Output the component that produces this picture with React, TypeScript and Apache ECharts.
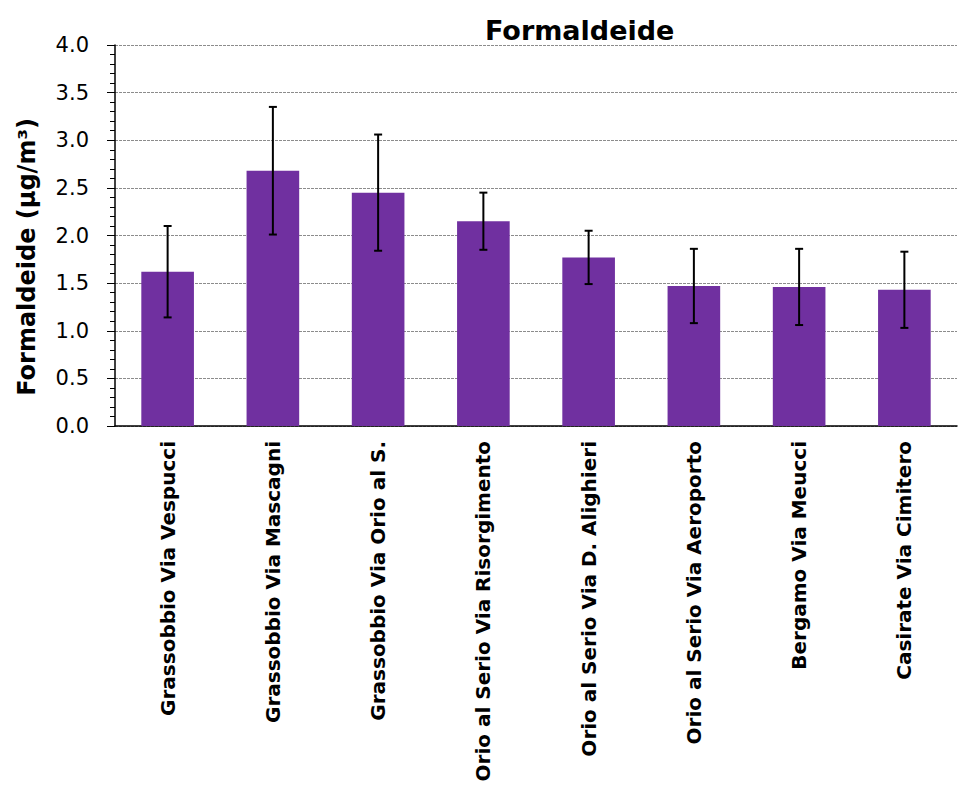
import React, { useEffect, useRef } from "react";
import * as echarts from "echarts";

const categories = [
  "Grassobbio Via Vespucci",
  "Grassobbio Via Mascagni",
  "Grassobbio Via Orio al S.",
  "Orio al Serio Via Risorgimento",
  "Orio al Serio Via D. Alighieri",
  "Orio al Serio Via Aeroporto",
  "Bergamo Via Meucci",
  "Casirate Via Cimitero",
];
const values = [1.62, 2.68, 2.45, 2.15, 1.77, 1.47, 1.46, 1.43];
const errLow = [1.14, 2.01, 1.84, 1.85, 1.49, 1.08, 1.06, 1.03];
const errHigh = [2.1, 3.35, 3.06, 2.45, 2.05, 1.86, 1.86, 1.83];

const FONT = "DejaVu Sans";

export default function App() {
  const ref = useRef<HTMLDivElement>(null);
  useEffect(() => {
    if (!ref.current) return;
    const chart = echarts.init(ref.current, null, { renderer: "svg" });
    const errData = categories.map((_, i) => [i, errLow[i], errHigh[i]]);
    chart.setOption({
      animation: false,
      backgroundColor: "#ffffff",
      graphic: [
        {
          type: "text",
          x: 485,
          y: 30,
          style: {
            text: "Formaldeide",
            font: `bold 27px "${FONT}"`,
            fill: "#000",
            textAlign: "left",
            textVerticalAlign: "middle",
          },
        },
        {
          type: "text",
          x: 27,
          y: 257,
          rotation: Math.PI / 2,
          style: {
            text: "Formaldeide (µg/m³)",
            font: `bold 24px "${FONT}"`,
            fill: "#000",
            textAlign: "center",
            textVerticalAlign: "middle",
          },
        },
      ],
      grid: {
        left: 115,
        right: 1,
        top: 45,
        bottom: 361,
        containLabel: false,
        outerBoundsMode: "none",
      },
      xAxis: {
        type: "category",
        data: categories,
        axisLine: { show: true, lineStyle: { color: "#000", width: 1.5 } },
        axisTick: { show: false },
        axisLabel: {
          rotate: 90,
          interval: 0,
          margin: 15,
          color: "#000",
          fontFamily: FONT,
          fontWeight: "bold",
          fontSize: 20,
        },
      },
      yAxis: {
        type: "value",
        min: 0,
        max: 4,
        interval: 0.5,
        axisLine: { show: true, lineStyle: { color: "#000", width: 1.5 } },
        axisTick: { show: true, inside: false, length: 8, lineStyle: { color: "#000" } },
        minorTick: { show: true, splitNumber: 5, length: 5, lineStyle: { color: "#000" } },
        splitLine: { show: true, lineStyle: { color: "#8c8c8c", type: [3, 1], width: 1 } },
        axisLabel: {
          color: "#000",
          fontFamily: FONT,
          fontSize: 21,
          margin: 26,
          formatter: (v: number) => v.toFixed(1),
        },
      },
      series: [
        {
          type: "bar",
          data: values,
          barWidth: "50%",
          itemStyle: { color: "#7030A0" },
        },
        {
          type: "custom",
          data: errData,
          z: 10,
          renderItem: (params: any, api: any) => {
            const lo = api.coord([api.value(0), api.value(1)]);
            const hi = api.coord([api.value(0), api.value(2)]);
            const cap = 4;
            const style = { stroke: "#000", lineWidth: 2 };
            return {
              type: "group",
              children: [
                { type: "line", shape: { x1: lo[0], y1: lo[1], x2: hi[0], y2: hi[1] }, style },
                { type: "line", shape: { x1: lo[0] - cap, y1: lo[1], x2: lo[0] + cap, y2: lo[1] }, style },
                { type: "line", shape: { x1: hi[0] - cap, y1: hi[1], x2: hi[0] + cap, y2: hi[1] }, style },
              ],
            };
          },
        },
      ],
    });
    return () => chart.dispose();
  }, []);
  return (
    <div
      ref={ref}
      style={{ position: "fixed", left: 0, top: 0, width: 958, height: 787 }}
    />
  );
}
